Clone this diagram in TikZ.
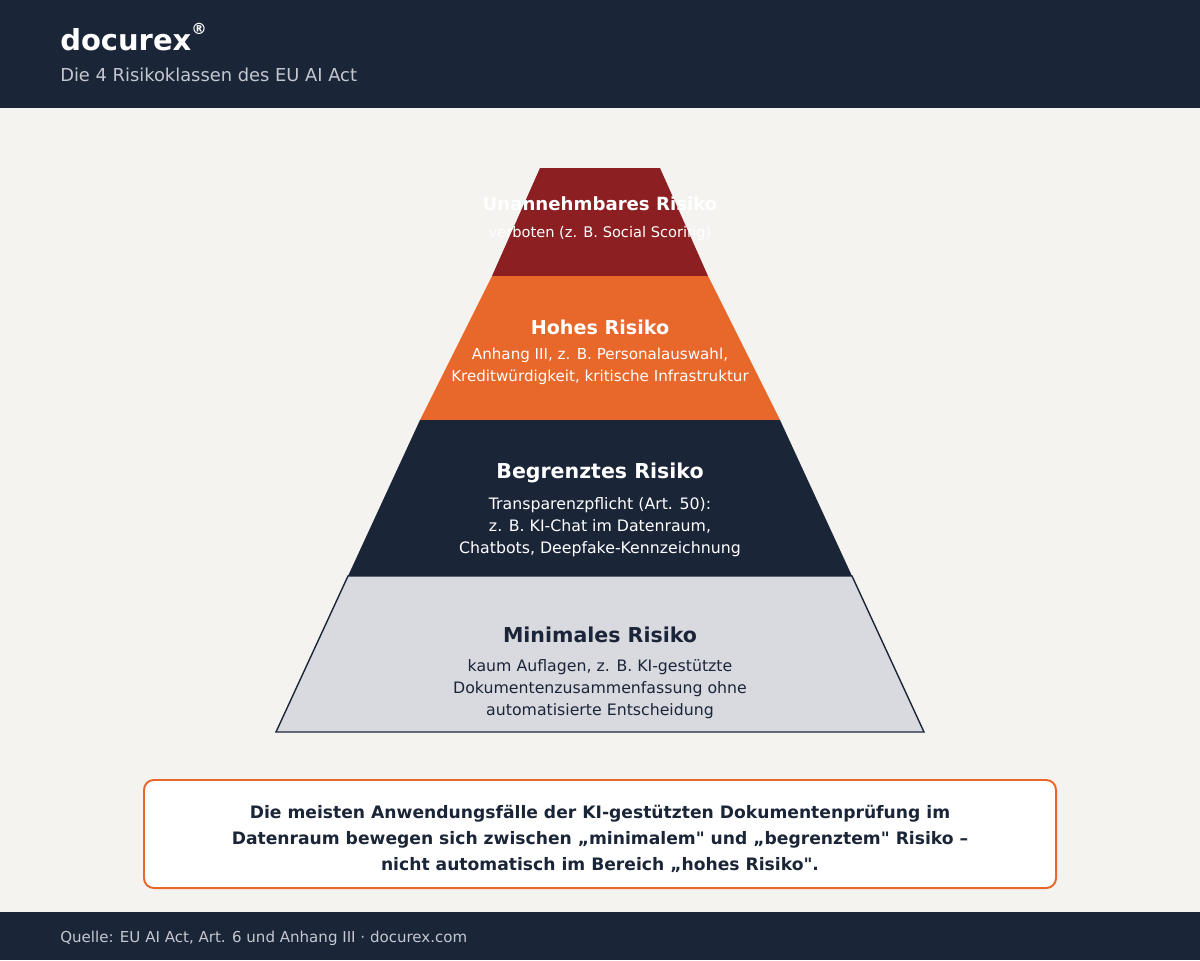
\documentclass[tikz,border=0pt]{standalone}
\usepackage{fontspec}
\newfontfamily\dejavu{DejaVu Sans}
\usepackage{xcolor}
\usepackage{tikz}
\usetikzlibrary{positioning}

\definecolor{navy}{HTML}{1B2538}
\definecolor{paper}{HTML}{F4F3F0}
\definecolor{banred}{HTML}{8B1F22}
\definecolor{highor}{HTML}{E8672A}
\definecolor{minigrey}{HTML}{D9DAE0}
\definecolor{subgrey}{HTML}{C3C7CF}

\begin{document}
\dejavu
\begin{tikzpicture}[x=0.025cm,y=-0.025cm,
  lvl/.style={font=\fontsize{#1}{16}\selectfont\bfseries,text=white},
  lvl/.default=13.6,
  lvltxt/.style={font=\fontsize{#1}{15.6}\selectfont,text=white,align=center},
  lvltxt/.default=10.75,
  note/.style={draw=highor,line width=1.4pt,rounded corners=7pt,fill=white,
    minimum width=912*0.025cm,minimum height=108*0.025cm},
  notetxt/.style={align=center,font=\fontsize{12.2}{18.5}\selectfont\bfseries,text=navy}
]
\useasboundingbox (0,0) rectangle (1200,960);
\fill[paper] (0,0) rectangle (1200,960);
%% header
\fill[navy] (0,0) rectangle (1200,108);
\node[anchor=base west,font=\fontsize{20.6}{24}\selectfont\bfseries,text=white,
  inner sep=0pt] (brand) at (60,50) {docurex\raisebox{1.0ex}{\fontsize{11}{12}\selectfont ®}};
\node[anchor=base west,font=\fontsize{12.7}{14}\selectfont,text=subgrey,
  inner sep=0pt] (sub) at (60,81) {Die 4 Risikoklassen des EU AI Act};
%% pyramid
\fill[banred] (540,168) -- (660,168) -- (708,276) -- (492,276) -- cycle;
\fill[highor] (492,276) -- (708,276) -- (780,420) -- (420,420) -- cycle;
\fill[navy] (420,420) -- (780,420) -- (852,576) -- (348,576) -- cycle;
\filldraw[fill=minigrey,draw=navy,line width=1pt]
  (348,576) -- (852,576) -- (924,732) -- (276,732) -- cycle;
\node[lvl=12.9] (ua) at (600,204) {Unannehmbares Risiko};
\node[lvltxt=10.4] (uat) at (600,233) {verboten (z. B. Social Scoring)};
\node[lvl] (hr) at (600,327) {Hohes Risiko};
\node[lvltxt] (hrt) at (600,366.5)
  {Anhang III, z. B. Personalauswahl,\\Kreditwürdigkeit, kritische Infrastruktur};
\node[lvl=14.6] (br) at (600,473) {Begrenztes Risiko};
\node[lvltxt=11.2] (brt) at (600,527)
  {Transparenzpflicht (Art. 50):\\z. B. KI-Chat im Datenraum,\\Chatbots, Deepfake-Kennzeichnung};
\node[lvl=14.6,text=navy] (mr) at (600,635) {Minimales Risiko};
\node[lvltxt=11.2,text=navy] (mrt) at (600,689)
  {kaum Auflagen, z. B. KI-gestützte\\Dokumentenzusammenfassung ohne\\automatisierte Entscheidung};
%% note box
\node[note] (box) at (600,834) {};
\node[notetxt] (boxtxt) at (600,839)
  {Die meisten Anwendungsfälle der KI-gestützten Dokumentenprüfung im\\
   Datenraum bewegen sich zwischen „minimalem" und „begrenztem" Risiko –\\
   nicht automatisch im Bereich „hohes Risiko".};
%% footer
\fill[navy] (0,912) rectangle (1200,960);
\node[anchor=base west,font=\fontsize{10.7}{12}\selectfont,text=subgrey,
  inner sep=0pt] (src) at (60,942) {Quelle: EU AI Act, Art. 6 und Anhang III · docurex.com};
\end{tikzpicture}
\end{document}
